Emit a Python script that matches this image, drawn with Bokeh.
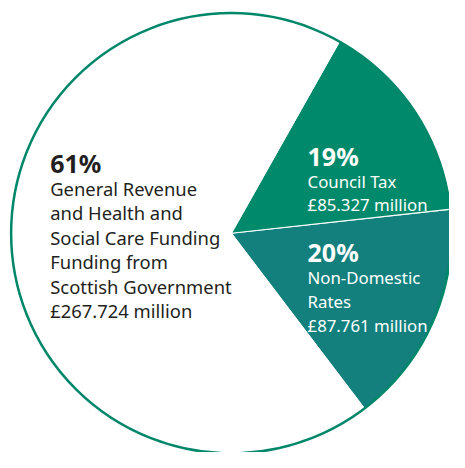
import math
from bokeh.plotting import figure
from bokeh.models import Range1d, ColumnDataSource
from bokeh.core.properties import value
from bokeh.embed import file_html
from bokeh.resources import INLINE

# ---------------- data ----------------
categories = ["Non-Domestic Rates", "Council Tax",
              "General Revenue and Health and Social Care Funding Funding from Scottish Government"]
amounts_million = [87.761, 85.327, 267.724]
percent_labels = ["20%", "19%", "61%"]
# slice sizes as they are drawn in the picture (percent of the circle)
drawn_share = [16.4, 15.1, 68.5]
label_lines = [
    ["Non-Domestic", "Rates", "£87.761 million"],
    ["Council Tax", "£85.327 million"],
    ["General Revenue", "and Health and", "Social Care Funding",
     "Funding from", "Scottish Government", "£267.724 million"],
]
colors = ["#13807e", "#00896a", "#ffffff"]

# ---------------- layout (data units = reference pixels) ----------------
W, H = 449, 452
REF_W, REF_H = 465, 468
CXP, CYP = 239, 241          # pie centre in reference pixels
R = 228
START_DEG = -52.8
FONT = "Noto Sans"
DARK = "#231f20"

def px(x, y):
    """reference pixel -> data coordinate"""
    return x, -y

p = figure(width=W, height=H,
           x_range=Range1d(0, REF_W), y_range=Range1d(-REF_H, 0),
           output_backend="svg", toolbar_location=None, min_border=0,
           x_axis_location=None, y_axis_location=None)
p.grid.visible = False
p.outline_line_color = None
p.background_fill_color = "white"
p.border_fill_color = "white"

cx, cy = px(CXP, CYP)

# wedges
starts, ends = [], []
a = math.radians(START_DEG)
for s in drawn_share:
    starts.append(a)
    a += s / 100.0 * 2 * math.pi
    ends.append(a)
src = ColumnDataSource(dict(start=starts, end=ends, color=colors,
                            cat=categories, amt=amounts_million))
p.wedge(x=cx, y=cy, radius=R, start_angle="start", end_angle="end",
        fill_color="color", line_color="white", line_width=1.2, source=src)

# outline circle
p.circle(x=[cx], y=[cy], radius=R, fill_color=None, line_color="#00876a",
         line_width=2.5)

# labels: (x, pct baseline, first line baseline, line step, body size, colour)
label_layout = [
    (318, 260.0, 286.7, 25.0, "16.8px", "white"),
    (318, 161.0, 187.3, 24.0, "16.8px", "white"),
    (51.5, 168.3, 194.5, 25.3, "18.4px", DARK),
]
for i, (lx, pb, fb, step, bsize, col) in enumerate(label_layout):
    x, y = px(lx, pb)
    p.text(x=[x], y=[y], text=[percent_labels[i]], text_font=value(FONT),
           text_font_style="bold", text_font_size="25px", text_color=col,
           text_baseline="alphabetic", text_align="left")
    xs, ys = [], []
    for j, _ in enumerate(label_lines[i]):
        xx, yy = px(lx, fb + j * step)
        xs.append(xx)
        ys.append(yy)
    p.text(x=xs, y=ys, text=label_lines[i], text_font=value(FONT),
           text_font_size=bsize, text_color=col,
           text_baseline="alphabetic", text_align="left")

open("out.html", "w").write(file_html(p, INLINE))
